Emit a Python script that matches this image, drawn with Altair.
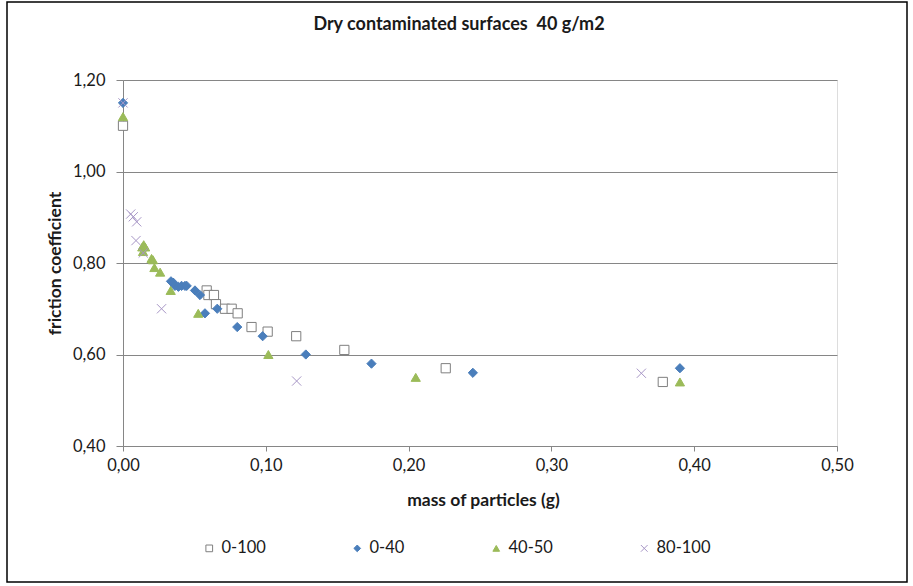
import altair as alt
import pandas as pd

# Friction coefficient vs. particle mass, one series per particle size class
series_names = ["0-100", "0-40", "40-50", "80-100"]

mass_0_100 = [0.0, 0.0586, 0.0598, 0.0637, 0.0651, 0.0714, 0.0761, 0.0803, 0.090, 0.1013, 0.1213, 0.155, 0.226, 0.378]
mu_0_100 = [1.10, 0.74, 0.73, 0.73, 0.71, 0.70, 0.70, 0.69, 0.66, 0.65, 0.64, 0.61, 0.57, 0.54]

mass_0_40 = [0.0, 0.0336, 0.0352, 0.0364, 0.0388, 0.041, 0.0434, 0.0446, 0.0504, 0.0539, 0.0574, 0.066, 0.080, 0.0978, 0.128, 0.174, 0.245, 0.390]
mu_0_40 = [1.15, 0.76, 0.757, 0.75, 0.748, 0.75, 0.75, 0.75, 0.74, 0.73, 0.69, 0.70, 0.66, 0.64, 0.60, 0.58, 0.56, 0.57]

mass_40_50 = [0.0, 0.0135, 0.0145, 0.0155, 0.014, 0.020, 0.021, 0.022, 0.026, 0.0334, 0.0527, 0.1018, 0.205, 0.390]
mu_40_50 = [1.12, 0.835, 0.84, 0.835, 0.825, 0.81, 0.807, 0.79, 0.78, 0.74, 0.69, 0.60, 0.55, 0.54]

mass_80_100 = [0.0, 0.0054, 0.0072, 0.0096, 0.0091, 0.0142, 0.027, 0.1216, 0.363]
mu_80_100 = [1.15, 0.907, 0.901, 0.89, 0.849, 0.822, 0.70, 0.542, 0.559]

y_ticks = [0.4, 0.6, 0.8, 1.0, 1.2]
x_ticks = [0.0, 0.1, 0.2, 0.3, 0.4, 0.5]

# non-breaking space keeps the wide gap before "40 g/m2" in SVG text
chart_title = "Dry contaminated surfaces\u00a0 40 g/m2"

rows = []
for name, xs, ys in [
    ("0-100", mass_0_100, mu_0_100),
    ("0-40", mass_0_40, mu_0_40),
    ("40-50", mass_40_50, mu_40_50),
    ("80-100", mass_80_100, mu_80_100),
]:
    for x, y in zip(xs, ys):
        rows.append({"series": name, "mass": x, "mu": y})
df = pd.DataFrame(rows)

FONT = "Lato"
INK = "#1a1a1a"
GRID = "#868686"
comma_fmt = "replace(format(datum.value, '.2f'), '.', ',')"
x_shape = "M-1,-1L1,1M-1,1L1,-1"

axis_text = dict(
    labelFont=FONT,
    labelFontSize=16.5,
    labelColor=INK,
    labelFlush=False,
    titleFont=FONT,
    titleFontSize=17.5,
    titleFontWeight="bold",
    titleColor=INK,
)

legend = alt.Legend(
    title=None,
    orient="none",
    direction="horizontal",
    legendX=78,
    legendY=460,
    columnPadding=83,
    symbolSize=45,
    symbolStrokeWidth=1,
    labelFont=FONT,
    labelFontSize=16.5,
    labelColor=INK,
    labelOffset=4,
)

points = alt.Chart(df).mark_point(size=85, strokeWidth=1, opacity=1).encode(
    x=alt.X(
        "mass:Q",
        scale=alt.Scale(domain=[0, 0.5], nice=False, zero=False),
        axis=alt.Axis(
            values=x_ticks,
            labelExpr=comma_fmt,
            title="mass of particles (g)",
            grid=False,
            domainColor=GRID,
            tickColor=GRID,
            tickSize=5,
            labelPadding=6,
            titleX=360,
            titleY=54,
            titleBaseline="middle",
            titleAlign="center",
            **axis_text,
        ),
    ),
    y=alt.Y(
        "mu:Q",
        scale=alt.Scale(domain=[0.4, 1.2], nice=False, zero=False),
        axis=alt.Axis(
            values=y_ticks,
            labelExpr=comma_fmt,
            title="friction coefficient",
            grid=True,
            gridColor=GRID,
            domainColor=GRID,
            tickColor=GRID,
            tickSize=7,
            labelPadding=11,
            titleAngle=-90,
            titleX=-68,
            titleY=183,
            titleBaseline="middle",
            titleAlign="center",
            **axis_text,
        ),
    ),
    shape=alt.Shape(
        "series:N",
        scale=alt.Scale(domain=series_names, range=["square", "diamond", "triangle-up", x_shape]),
        legend=legend,
    ),
    fill=alt.Fill(
        "series:N",
        scale=alt.Scale(domain=series_names, range=["#ffffff", "#4A7EBB", "#9BBB59", "transparent"]),
        legend=legend,
    ),
    stroke=alt.Stroke(
        "series:N",
        scale=alt.Scale(domain=series_names, range=["#7f7f7f", "#4A7EBB", "#9BBB59", "#A796C6"]),
        legend=legend,
    ),
)

# outer frame around the whole figure
frame = alt.Chart(alt.Data(values=[{}])).mark_rect(
    fill=None, stroke="#000000", strokeWidth=1.5, clip=False
).encode(
    x=alt.value(-116), x2=alt.value(784), y=alt.value(-78), y2=alt.value(502)
)

# chart heading, placed above the plot area
heading = alt.Chart(alt.Data(values=[{"t": chart_title}])).mark_text(
    font=FONT, fontSize=18, fontWeight="bold", color=INK,
    align="center", baseline="middle", clip=False,
).encode(
    text="t:N", x=alt.value(336), y=alt.value(-55)
)

chart = alt.layer(frame, points, heading).properties(
    width=714,
    height=366,
    autosize=alt.AutoSizeParams(type="none"),
    padding={"left": 123, "top": 80, "right": 76, "bottom": 140},
).configure_view(stroke=None).configure(background="white")

chart.save("out.html", embed_options={"renderer": "svg", "actions": False})
